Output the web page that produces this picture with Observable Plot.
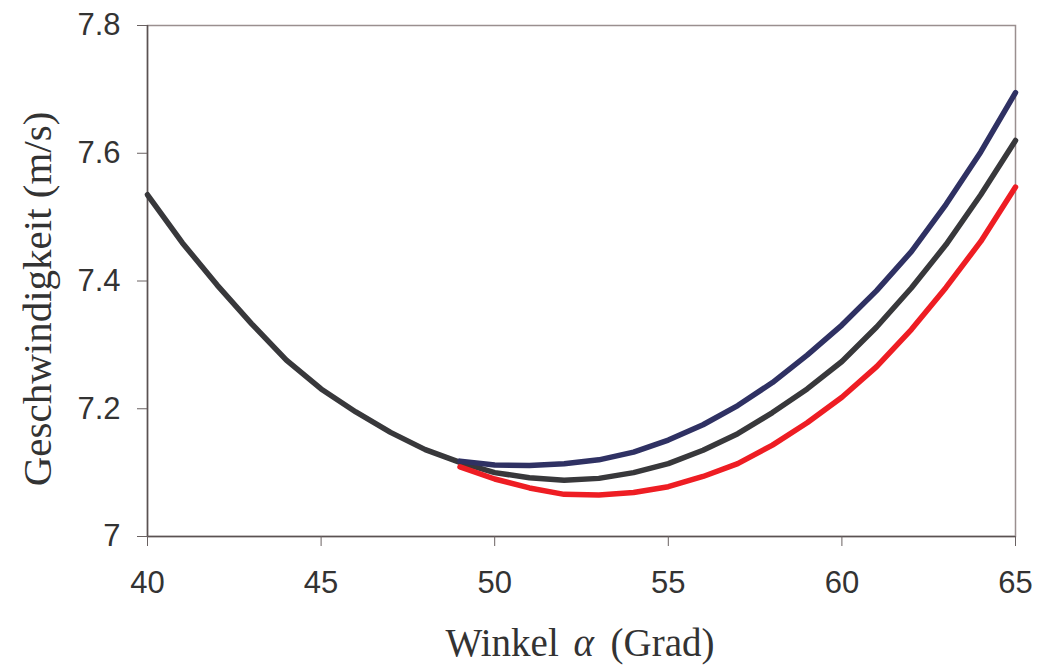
<!DOCTYPE html>
<html>
<head>
<meta charset="utf-8">
<script src="https://cdn.jsdelivr.net/npm/d3@7"></script>
<script src="https://cdn.jsdelivr.net/npm/@observablehq/plot@0.6"></script>
<style>
  html, body { margin: 0; padding: 0; background: #fff; }
  #chart svg { display: block; }
</style>
</head>
<body>
<div id="chart"></div>
<script>
// Angle (degrees)
const anglesBlack = [40,41,42,43,44,45,46,47,48,49,50,51,52,53,54,55,56,57,58,59,60,61,62,63,64,65];
const speedBlack  = [7.535,7.460,7.394,7.333,7.276,7.231,7.195,7.163,7.136,7.116,7.100,7.092,7.088,7.091,7.100,7.114,7.135,7.161,7.194,7.231,7.274,7.328,7.389,7.457,7.535,7.620];

const anglesSplit = [49,50,51,52,53,54,55,56,57,58,59,60,61,62,63,64,65];
const speedBlue   = [7.118,7.112,7.111,7.114,7.120,7.132,7.151,7.175,7.205,7.241,7.284,7.331,7.385,7.446,7.520,7.602,7.695];
const speedRed    = [7.109,7.090,7.076,7.066,7.065,7.069,7.078,7.094,7.114,7.143,7.178,7.218,7.266,7.324,7.390,7.462,7.547];

const xTicks = [40,45,50,55,60,65];
const yTicks = [7,7.2,7.4,7.6,7.8];
const yTickLabels = ["7","7.2","7.4","7.6","7.8"];

const yTitle = "Geschwindigkeit (m/s)";
const xTitleParts = ["Winkel", "α", "(Grad)"];

const toRows = (xs, ys) => xs.map((x, i) => ({x, y: ys[i]}));

const chart = Plot.plot({
  width: 1039,
  height: 665,
  marginLeft: 147,
  marginRight: 24,
  marginTop: 25,
  marginBottom: 129,
  style: {background: "#ffffff", color: "#333333"},
  x: {domain: [40, 65]},
  y: {domain: [7, 7.8]},
  marks: [
    Plot.frame({stroke: "#9a8f8f", strokeWidth: 1.5}),
    Plot.ruleX([40], {stroke: "#5a5252", strokeWidth: 1.5}),
    Plot.ruleY([7], {stroke: "#5a5252", strokeWidth: 1.5}),
    Plot.axisY({
      ticks: yTicks,
      tickFormat: (d, i) => yTickLabels[yTicks.indexOf(d)],
      tickSize: 10,
      tickPadding: 17,
      stroke: "#6a6262",
      fill: "#333333",
      fontSize: 31,
      fontFamily: "Liberation Sans, Arial, sans-serif",
      label: null
    }),
    Plot.axisX({
      ticks: xTicks,
      tickFormat: d => String(d),
      tickSize: 10,
      tickPadding: 24,
      stroke: "#6a6262",
      fill: "#333333",
      fontSize: 31,
      fontFamily: "Liberation Sans, Arial, sans-serif",
      label: null
    }),
    Plot.line(toRows(anglesBlack, speedBlack), {x: "x", y: "y", stroke: "#38383b", strokeWidth: 5.5, strokeLinejoin: "round"}),
    Plot.line(toRows(anglesSplit, speedBlue), {x: "x", y: "y", stroke: "#2f3163", strokeWidth: 5.5, strokeLinejoin: "round"}),
    Plot.line(toRows(anglesSplit, speedRed), {x: "x", y: "y", stroke: "#ee1d23", strokeWidth: 5.5, strokeLinejoin: "round"}),
    Plot.text([yTitle], {
      frameAnchor: "left", rotate: -90, dx: -97, dy: 18,
      textAnchor: "middle", lineAnchor: "bottom",
      fontSize: 41, fontFamily: "Liberation Serif, Times New Roman, serif", fill: "#333333"
    }),
    Plot.text([xTitleParts[0]], {
      frameAnchor: "bottom", dx: -136, dy: 119, textAnchor: "start", lineAnchor: "bottom",
      fontSize: 39, fontFamily: "Liberation Serif, Times New Roman, serif", fill: "#333333"
    }),
    Plot.text([xTitleParts[1]], {
      frameAnchor: "bottom", dx: -8, dy: 119, textAnchor: "start", lineAnchor: "bottom",
      fontSize: 39, fontStyle: "italic", fontFamily: "Liberation Serif, Times New Roman, serif", fill: "#333333"
    }),
    Plot.text([xTitleParts[2]], {
      frameAnchor: "bottom", dx: 29, dy: 119, textAnchor: "start", lineAnchor: "bottom",
      fontSize: 39, fontFamily: "Liberation Serif, Times New Roman, serif", fill: "#333333"
    })
  ]
});
document.getElementById("chart").appendChild(chart);
</script>
</body>
</html>
